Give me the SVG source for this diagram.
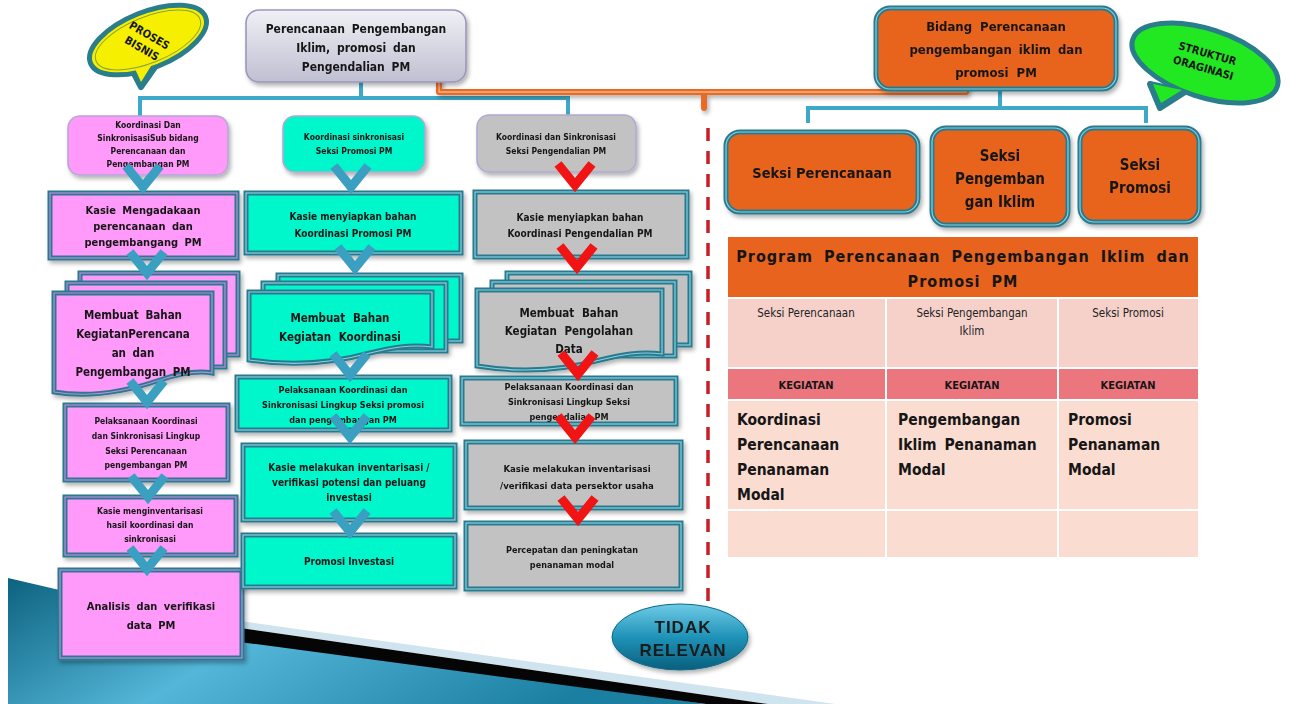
<svg xmlns="http://www.w3.org/2000/svg" width="1290" height="704" viewBox="0 0 1290 704">
  <defs>
    <style>
      .f { font-family: 'DejaVu Sans Condensed', 'DejaVu Sans', sans-serif; font-stretch: condensed; font-weight: bold; fill: #161616; text-anchor: middle; }
      .fl { font-family: 'DejaVu Sans Condensed', 'DejaVu Sans', sans-serif; font-stretch: condensed; font-weight: bold; fill: #161616; text-anchor: start; }
      .fn { font-family: 'DejaVu Sans Condensed', 'DejaVu Sans', sans-serif; font-stretch: condensed; font-weight: normal; fill: #222; text-anchor: middle; }
      .pink { fill: #ff99fa; }
      .cyan { fill: #00f7cc; }
      .gray { fill: #c2c2c2; }
      .orng { fill: #e8641e; }
      .bo { fill: none; stroke: #2b7a8e; stroke-width: 5; }
      .bi-p { fill: none; stroke: #b98ae0; stroke-width: 1.2; }
      .bi-t { fill: none; stroke: #86cfe0; stroke-width: 1.2; }
      .soft { stroke: #b4a8d4; stroke-width: 1.6; }
      .chev-t { stroke: #3a9fc0; }
      .chev-r { stroke: #f01414; }
      .link-b { fill: none; stroke: #3ca9c8; stroke-width: 4; }
      .sh { filter: url(#sh); }
    </style>
    <filter id="sh" x="-10%" y="-10%" width="130%" height="140%">
      <feDropShadow dx="2" dy="3" stdDeviation="2" flood-color="#000" flood-opacity="0.3"/>
    </filter>
    <linearGradient id="gTop" x1="0" y1="0" x2="0" y2="1">
      <stop offset="0" stop-color="#f0f0f5"/>
      <stop offset="1" stop-color="#bfbfd2"/>
    </linearGradient>
    <linearGradient id="gTidak" x1="0" y1="0" x2="0" y2="1">
      <stop offset="0" stop-color="#6fcbe6"/>
      <stop offset="0.5" stop-color="#1f93b8"/>
      <stop offset="1" stop-color="#0a5f7e"/>
    </linearGradient>
    <linearGradient id="gDecor" x1="0" y1="0" x2="1" y2="0.3">
      <stop offset="0" stop-color="#0c627f"/>
      <stop offset="0.45" stop-color="#54b6d8"/>
      <stop offset="1" stop-color="#1b7fa1"/>
    </linearGradient>
    <!-- flow chevron, tip at the origin -->
    <path id="chev" d="M-17,-24 L0,-3 L17,-24" fill="none" stroke-width="9" stroke-linejoin="miter"/>
  </defs>

  <rect width="1290" height="704" fill="#ffffff"/>

  <!-- corner decoration -->
  <g id="decor">
    <polygon points="8,578 240,632 705,704 8,704" fill="url(#gDecor)"/>
    <polygon points="240,621 835,704 768,704 240,628" fill="#cfe4ee"/>
    <polygon points="240,628 768,704 706,704 240,642" fill="#050505"/>
  </g>

  <!-- connectors -->
  <g id="connectors">
    <path class="link-b" d="M361,82 V98 M140,116 V98 H568 V116"/>
    <path class="link-b" d="M1000,89 V108 M808,123 V108 H1146 V123"/>
    <g class="sh">
      <path d="M439,76 V92 H966 V84 M704,92 V108" fill="none" stroke="#ea6a22" stroke-width="6" stroke-linecap="round" stroke-linejoin="round"/>
      <path d="M439,78 V92 H966 V86" fill="none" stroke="#f7b28a" stroke-width="1.3"/>
    </g>
    <line x1="708" y1="128" x2="708" y2="622" stroke="#c81e28" stroke-width="3.5" stroke-dasharray="13,10"/>
  </g>

  <!-- speech bubbles -->
  <g id="bubble-proses">
    <path d="M128,62 L141,87 L160,60 Z" fill="#2a7d8a" stroke="#2a7d8a" stroke-width="6" stroke-linejoin="round"/>
    <ellipse cx="148" cy="40" rx="62" ry="28" transform="rotate(-22 148 40)" fill="#f6f000" stroke="#2a7d8a" stroke-width="5"/>
    <path d="M131,60 L141,82 L156,58 Z" fill="#f6f000"/>
    <ellipse cx="148" cy="40" rx="56" ry="23" transform="rotate(-22 148 40)" fill="none" stroke="#8aa040" stroke-width="1"/>
    <g transform="rotate(30 145 43)">
      <text class="f" x="145" y="38" font-size="11">PROSES</text>
      <text class="f" x="145" y="53" font-size="11">BISNIS</text>
    </g>
  </g>

  <g id="bubble-struktur">
    <path d="M1150,84 L1160,108 L1185,92 Z" fill="#2a7d8a" stroke="#2a7d8a" stroke-width="6" stroke-linejoin="round"/>
    <ellipse cx="1205" cy="63" rx="76" ry="34" transform="rotate(18 1205 63)" fill="#22e822" stroke="#2a7d8a" stroke-width="5"/>
    <path d="M1153,84 L1161,103 L1182,90 Z" fill="#22e822"/>
    <g transform="rotate(16 1205 62)">
      <text class="f" x="1205" y="57" font-size="11">STRUKTUR</text>
      <text class="f" x="1205" y="72" font-size="11">ORAGINASI</text>
    </g>
  </g>

  <!-- top process -->
  <g id="n-top" class="sh">
    <rect x="246" y="10" width="220" height="72" rx="13" fill="url(#gTop)" stroke="#9a98bc" stroke-width="1.6"/>
    <text class="f" x="356" y="33" font-size="12" word-spacing="3">Perencanaan Pengembangan</text>
    <text class="f" x="356" y="52" font-size="12" word-spacing="3">Iklim, promosi dan</text>
    <text class="f" x="356" y="71" font-size="12" word-spacing="3">Pengendalian PM</text>
  </g>

  <!-- left column: perencanaan -->
  <g id="n-l1" class="sh">
    <rect x="68" y="116" width="160" height="59" rx="12" class="pink soft"/>
    <text class="f" x="148" y="128" font-size="8.5">Koordinasi Dan</text>
    <text class="f" x="148" y="141" font-size="8.5">SinkronisasiSub bidang</text>
    <text class="f" x="148" y="154" font-size="8.5">Perencanaan dan</text>
    <text class="f" x="148" y="167" font-size="8.5">Pengembangan PM</text>
  </g>
  <g id="n-l2" class="sh">
    <rect x="50" y="193" width="187" height="65" class="pink"/>
    <rect x="50" y="193" width="187" height="65" class="bo"/>
    <rect x="50" y="193" width="187" height="65" class="bi-p"/>
    <text class="f" x="143" y="214" font-size="11" word-spacing="3">Kasie Mengadakaan</text>
    <text class="f" x="143" y="230" font-size="11" word-spacing="3">perencanaan dan</text>
    <text class="f" x="143" y="246" font-size="11" word-spacing="3">pengembangang PM</text>
  </g>
  <g id="n-l3" class="sh">
    <rect x="80" y="273" width="158" height="82" class="pink"/>
    <rect x="80" y="273" width="158" height="82" class="bo"/>
    <rect x="80" y="273" width="158" height="82" class="bi-p"/>
    <rect x="67" y="283" width="158" height="84" class="pink"/>
    <rect x="67" y="283" width="158" height="84" class="bo"/>
    <rect x="67" y="283" width="158" height="84" class="bi-p"/>
    <path d="M54,293 H212 V373 C195,370 178,374 160,380 C125,392 90,398 54,392 Z" class="pink"/>
    <path d="M54,293 H212 V373 C195,370 178,374 160,380 C125,392 90,398 54,392 Z" class="bo"/>
    <path d="M54,293 H212 V373 C195,370 178,374 160,380 C125,392 90,398 54,392 Z" class="bi-p"/>
    <text class="f" x="133" y="319" font-size="11.5" word-spacing="3">Membuat Bahan</text>
    <text class="f" x="133" y="338" font-size="11.5">KegiatanPerencana</text>
    <text class="f" x="133" y="357" font-size="11.5" word-spacing="3">an dan</text>
    <text class="f" x="133" y="376" font-size="11.5" word-spacing="3">Pengembangan PM</text>
  </g>
  <g id="n-l4" class="sh">
    <rect x="65" y="405" width="163" height="75" class="pink"/>
    <rect x="65" y="405" width="163" height="75" class="bo"/>
    <rect x="65" y="405" width="163" height="75" class="bi-p"/>
    <text class="f" x="146" y="424" font-size="8.5">Pelaksanaan Koordinasi</text>
    <text class="f" x="146" y="439" font-size="8.5">dan Sinkronisasi Lingkup</text>
    <text class="f" x="146" y="454" font-size="8.5">Seksi Perencanaan</text>
    <text class="f" x="146" y="468" font-size="8.5">pengembangan PM</text>
  </g>
  <g id="n-l5" class="sh">
    <rect x="65" y="497" width="171" height="58" class="pink"/>
    <rect x="65" y="497" width="171" height="58" class="bo"/>
    <rect x="65" y="497" width="171" height="58" class="bi-p"/>
    <text class="f" x="150" y="514" font-size="8.5">Kasie menginventarisasi</text>
    <text class="f" x="150" y="528" font-size="8.5">hasil koordinasi dan</text>
    <text class="f" x="150" y="542" font-size="8.5">sinkronisasi</text>
  </g>
  <g id="n-l6" class="sh">
    <rect x="60" y="570" width="182" height="88" class="pink"/>
    <rect x="60" y="570" width="182" height="88" class="bo"/>
    <rect x="60" y="570" width="182" height="88" class="bi-p"/>
    <text class="f" x="151" y="610" font-size="11" word-spacing="3">Analisis dan verifikasi</text>
    <text class="f" x="151" y="629" font-size="11" word-spacing="3">data PM</text>
  </g>

  <!-- middle column: promosi -->
  <g id="n-m1" class="sh">
    <rect x="283" y="116" width="142" height="56" rx="12" class="cyan soft"/>
    <text class="f" x="354" y="140" font-size="8.5">Koordinasi sinkronisasi</text>
    <text class="f" x="354" y="154" font-size="8.5">Seksi Promosi PM</text>
  </g>
  <g id="n-m2" class="sh">
    <rect x="246" y="193" width="215" height="60" class="cyan"/>
    <rect x="246" y="193" width="215" height="60" class="bo"/>
    <rect x="246" y="193" width="215" height="60" class="bi-t"/>
    <text class="f" x="353" y="220" font-size="10">Kasie menyiapkan bahan</text>
    <text class="f" x="353" y="237" font-size="10">Koordinasi Promosi PM</text>
  </g>
  <g id="n-m3" class="sh">
    <rect x="278" y="275" width="183" height="66" class="cyan"/>
    <rect x="278" y="275" width="183" height="66" class="bo"/>
    <rect x="278" y="275" width="183" height="66" class="bi-t"/>
    <rect x="263" y="283" width="183" height="68" class="cyan"/>
    <rect x="263" y="283" width="183" height="68" class="bo"/>
    <rect x="263" y="283" width="183" height="68" class="bi-t"/>
    <path d="M249,292 H432 V347 C410,344 390,348 370,353 C330,364 290,366 249,360 Z" class="cyan"/>
    <path d="M249,292 H432 V347 C410,344 390,348 370,353 C330,364 290,366 249,360 Z" class="bo"/>
    <path d="M249,292 H432 V347 C410,344 390,348 370,353 C330,364 290,366 249,360 Z" class="bi-t"/>
    <text class="f" x="340" y="322" font-size="11.5" word-spacing="4">Membuat Bahan</text>
    <text class="f" x="340" y="341" font-size="11.5" word-spacing="4">Kegiatan Koordinasi</text>
  </g>
  <g id="n-m4" class="sh">
    <rect x="237" y="377" width="213" height="53" class="cyan"/>
    <rect x="237" y="377" width="213" height="53" class="bo"/>
    <rect x="237" y="377" width="213" height="53" class="bi-t"/>
    <text class="f" x="343" y="393" font-size="9">Pelaksanaan Koordinasi dan</text>
    <text class="f" x="343" y="408" font-size="9">Sinkronisasi Lingkup Seksi promosi</text>
    <text class="f" x="343" y="423" font-size="9">dan pengembangan PM</text>
  </g>
  <g id="n-m5" class="sh">
    <rect x="243" y="445" width="212" height="75" class="cyan"/>
    <rect x="243" y="445" width="212" height="75" class="bo"/>
    <rect x="243" y="445" width="212" height="75" class="bi-t"/>
    <text class="f" x="349" y="471" font-size="10">Kasie melakukan inventarisasi /</text>
    <text class="f" x="349" y="486" font-size="10">verifikasi potensi dan peluang</text>
    <text class="f" x="349" y="501" font-size="10">investasi</text>
  </g>
  <g id="n-m6" class="sh">
    <rect x="243" y="535" width="212" height="52" class="cyan"/>
    <rect x="243" y="535" width="212" height="52" class="bo"/>
    <rect x="243" y="535" width="212" height="52" class="bi-t"/>
    <text class="f" x="349" y="565" font-size="10">Promosi Investasi</text>
  </g>

  <!-- right column: pengendalian -->
  <g id="n-r1" class="sh">
    <rect x="477" y="115" width="159" height="57" rx="12" class="gray soft"/>
    <text class="f" x="556" y="140" font-size="8.5">Koordinasi dan Sinkronisasi</text>
    <text class="f" x="556" y="154" font-size="8.5">Seksi Pengendalian PM</text>
  </g>
  <g id="n-r2" class="sh">
    <rect x="475" y="192" width="212" height="65" class="gray"/>
    <rect x="475" y="192" width="212" height="65" class="bo"/>
    <rect x="475" y="192" width="212" height="65" class="bi-t"/>
    <text class="f" x="580" y="221" font-size="10">Kasie menyiapkan bahan</text>
    <text class="f" x="580" y="237" font-size="10">Koordinasi Pengendalian PM</text>
  </g>
  <g id="n-r3" class="sh">
    <rect x="507" y="273" width="183" height="72" class="gray"/>
    <rect x="507" y="273" width="183" height="72" class="bo"/>
    <rect x="507" y="273" width="183" height="72" class="bi-t"/>
    <rect x="492" y="282" width="183" height="74" class="gray"/>
    <rect x="492" y="282" width="183" height="74" class="bo"/>
    <rect x="492" y="282" width="183" height="74" class="bi-t"/>
    <path d="M477,290 H662 V354 C640,351 620,355 600,360 C560,371 520,373 477,366 Z" class="gray"/>
    <path d="M477,290 H662 V354 C640,351 620,355 600,360 C560,371 520,373 477,366 Z" class="bo"/>
    <path d="M477,290 H662 V354 C640,351 620,355 600,360 C560,371 520,373 477,366 Z" class="bi-t"/>
    <text class="f" x="569" y="317" font-size="11.5" word-spacing="4">Membuat Bahan</text>
    <text class="f" x="569" y="335" font-size="11.5" word-spacing="4">Kegiatan Pengolahan</text>
    <text class="f" x="569" y="353" font-size="11.5">Data</text>
  </g>
  <g id="n-r4" class="sh">
    <rect x="462" y="378" width="214" height="46" class="gray"/>
    <rect x="462" y="378" width="214" height="46" class="bo"/>
    <rect x="462" y="378" width="214" height="46" class="bi-t"/>
    <text class="f" x="569" y="390" font-size="9">Pelaksanaan Koordinasi dan</text>
    <text class="f" x="569" y="405" font-size="9">Sinkronisasi Lingkup Seksi</text>
    <text class="f" x="569" y="420" font-size="9">pengendalian PM</text>
  </g>
  <g id="n-r5" class="sh">
    <rect x="466" y="442" width="215" height="66" class="gray"/>
    <rect x="466" y="442" width="215" height="66" class="bo"/>
    <rect x="466" y="442" width="215" height="66" class="bi-t"/>
    <text class="f" x="577" y="472" font-size="9.5">Kasie melakukan inventarisasi</text>
    <text class="f" x="577" y="489" font-size="9.5">/verifikasi data persektor usaha</text>
  </g>
  <g id="n-r6" class="sh">
    <rect x="466" y="523" width="215" height="66" class="gray"/>
    <rect x="466" y="523" width="215" height="66" class="bo"/>
    <rect x="466" y="523" width="215" height="66" class="bi-t"/>
    <text class="f" x="572" y="553" font-size="9">Percepatan dan peningkatan</text>
    <text class="f" x="572" y="568" font-size="9">penanaman modal</text>
  </g>

  <!-- flow chevrons -->
  <g id="flow">
    <use href="#chev" class="chev-t" x="143" y="190"/>
    <use href="#chev" class="chev-t" x="147" y="276"/>
    <use href="#chev" class="chev-t" x="147" y="405"/>
    <use href="#chev" class="chev-t" x="148" y="500"/>
    <use href="#chev" class="chev-t" x="147" y="572"/>
    <use href="#chev" class="chev-t" x="351" y="190"/>
    <use href="#chev" class="chev-t" x="355" y="271"/>
    <use href="#chev" class="chev-t" x="350" y="378"/>
    <use href="#chev" class="chev-t" x="350" y="440"/>
    <use href="#chev" class="chev-t" x="350" y="535"/>
    <use href="#chev" class="chev-r" x="575" y="188"/>
    <use href="#chev" class="chev-r" x="577" y="270"/>
    <use href="#chev" class="chev-r" x="578" y="377"/>
    <use href="#chev" class="chev-r" x="575" y="440"/>
    <use href="#chev" class="chev-r" x="578" y="522"/>
  </g>

  <!-- organisation structure -->
  <g id="n-bidang" class="sh">
    <rect x="876" y="8" width="240" height="81" rx="14" class="orng"/>
    <rect x="876" y="8" width="240" height="81" rx="14" class="bo"/>
    <rect x="876" y="8" width="240" height="81" rx="14" class="bi-t"/>
    <text class="f" x="996" y="31" font-size="13" word-spacing="4">Bidang Perencanaan</text>
    <text class="f" x="996" y="54" font-size="13" word-spacing="3">pengembangan iklim dan</text>
    <text class="f" x="996" y="77" font-size="13" word-spacing="4">promosi PM</text>
  </g>
  <g id="n-seksi-perencanaan" class="sh">
    <rect x="726" y="132" width="192" height="80" rx="14" class="orng"/>
    <rect x="726" y="132" width="192" height="80" rx="14" class="bo"/>
    <rect x="726" y="132" width="192" height="80" rx="14" class="bi-t"/>
    <text class="f" x="822" y="178" font-size="14.5">Seksi Perencanaan</text>
  </g>
  <g id="n-seksi-pengembangan" class="sh">
    <rect x="932" y="128" width="136" height="97" rx="14" class="orng"/>
    <rect x="932" y="128" width="136" height="97" rx="14" class="bo"/>
    <rect x="932" y="128" width="136" height="97" rx="14" class="bi-t"/>
    <text class="f" x="1000" y="161" font-size="15">Seksi</text>
    <text class="f" x="1000" y="184" font-size="15">Pengemban</text>
    <text class="f" x="1000" y="207" font-size="15">gan Iklim</text>
  </g>
  <g id="n-seksi-promosi" class="sh">
    <rect x="1080" y="128" width="119" height="94" rx="14" class="orng"/>
    <rect x="1080" y="128" width="119" height="94" rx="14" class="bo"/>
    <rect x="1080" y="128" width="119" height="94" rx="14" class="bi-t"/>
    <text class="f" x="1140" y="170" font-size="15">Seksi</text>
    <text class="f" x="1140" y="193" font-size="15">Promosi</text>
  </g>

  <!-- program table -->
  <g id="program-table">
    <rect x="728" y="237" width="470" height="60" fill="#e8641e"/>
    <text class="f" x="963" y="262" font-size="16" letter-spacing="1" word-spacing="5">Program Perencanaan Pengembangan Iklim dan</text>
    <text class="f" x="963" y="287" font-size="16" letter-spacing="1" word-spacing="5">Promosi PM</text>

    <rect x="728" y="299" width="157" height="68" fill="#f6d1ca"/>
    <rect x="887" y="299" width="170" height="68" fill="#f6d1ca"/>
    <rect x="1059" y="299" width="139" height="68" fill="#f6d1ca"/>
    <text class="fn" x="806" y="317" font-size="11.5">Seksi Perencanaan</text>
    <text class="fn" x="972" y="317" font-size="11.5">Seksi Pengembangan</text>
    <text class="fn" x="972" y="335" font-size="11.5">Iklim</text>
    <text class="fn" x="1128" y="317" font-size="11.5">Seksi Promosi</text>

    <rect x="728" y="369" width="157" height="30" fill="#ec767e"/>
    <rect x="887" y="369" width="170" height="30" fill="#ec767e"/>
    <rect x="1059" y="369" width="139" height="30" fill="#ec767e"/>
    <text class="f" x="806" y="389" font-size="11">KEGIATAN</text>
    <text class="f" x="972" y="389" font-size="11">KEGIATAN</text>
    <text class="f" x="1128" y="389" font-size="11">KEGIATAN</text>

    <rect x="728" y="401" width="157" height="108" fill="#fbdcd1"/>
    <rect x="887" y="401" width="170" height="108" fill="#fbdcd1"/>
    <rect x="1059" y="401" width="139" height="108" fill="#fbdcd1"/>
    <text class="fl" x="737" y="425" font-size="15.5">Koordinasi</text>
    <text class="fl" x="737" y="450" font-size="15.5">Perencanaan</text>
    <text class="fl" x="737" y="475" font-size="15.5">Penanaman</text>
    <text class="fl" x="737" y="500" font-size="15.5">Modal</text>
    <text class="fl" x="898" y="425" font-size="15.5">Pengembangan</text>
    <text class="fl" x="898" y="450" font-size="15.5" word-spacing="3">Iklim Penanaman</text>
    <text class="fl" x="898" y="475" font-size="15.5">Modal</text>
    <text class="fl" x="1068" y="425" font-size="15.5">Promosi</text>
    <text class="fl" x="1068" y="450" font-size="15.5">Penanaman</text>
    <text class="fl" x="1068" y="475" font-size="15.5">Modal</text>

    <rect x="728" y="511" width="157" height="46" fill="#fbdcd1"/>
    <rect x="887" y="511" width="170" height="46" fill="#fbdcd1"/>
    <rect x="1059" y="511" width="139" height="46" fill="#fbdcd1"/>
  </g>

  <!-- out-of-scope marker -->
  <g id="n-tidak" class="sh">
    <ellipse cx="680" cy="637" rx="68" ry="33" fill="url(#gTidak)" stroke="#0d6a88" stroke-width="1"/>
    <text x="683" y="633" font-family="'Liberation Sans', Arial, sans-serif" font-weight="bold" font-size="17" fill="#1a1a1a" text-anchor="middle" letter-spacing="1">TIDAK</text>
    <text x="683" y="656" font-family="'Liberation Sans', Arial, sans-serif" font-weight="bold" font-size="17" fill="#1a1a1a" text-anchor="middle" letter-spacing="1">RELEVAN</text>
  </g>
</svg>
